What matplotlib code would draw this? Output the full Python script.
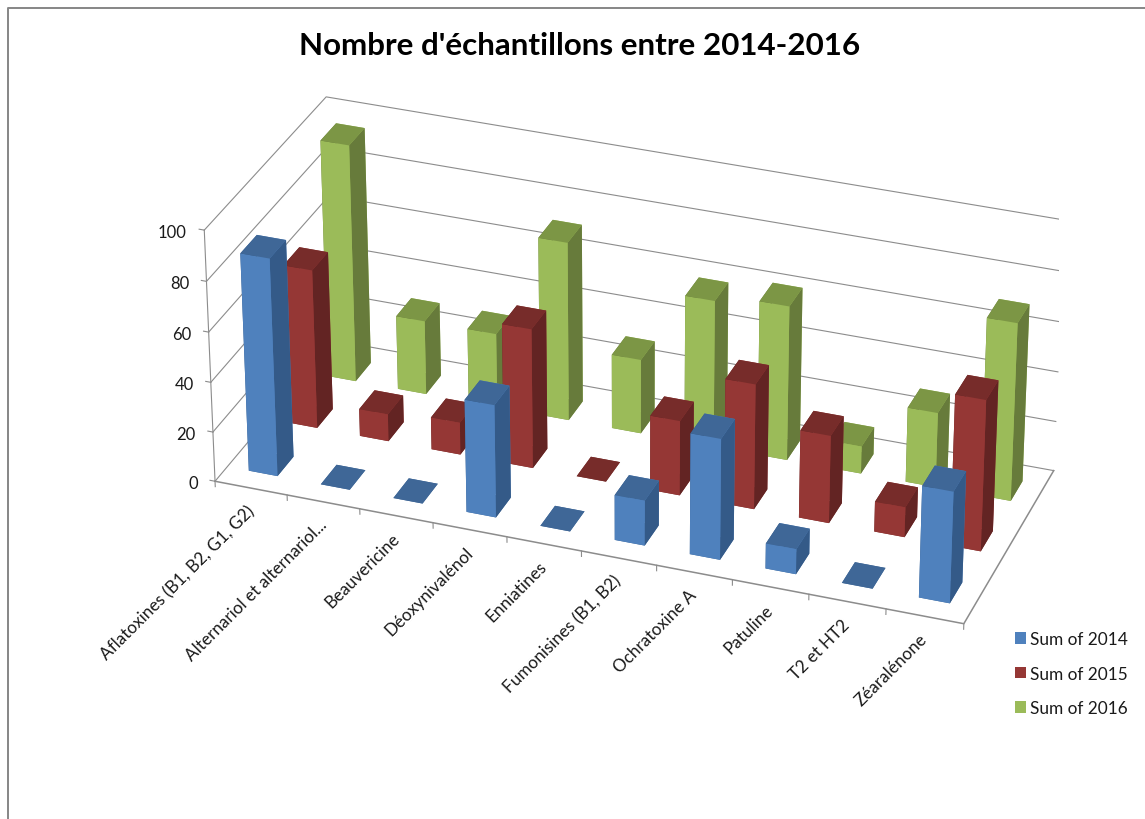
import matplotlib
matplotlib.use("Agg")
import matplotlib.pyplot as plt
from matplotlib.lines import Line2D
from matplotlib.patches import Patch
from mpl_toolkits.mplot3d import proj3d

plt.rcParams["font.family"] = "Lato"

categories = ["Aflatoxines (B1, B2, G1, G2)", "Alternariol et alternariol...", "Beauvericine", "Déoxynivalénol",
              "Enniatines", "Fumonisines (B1, B2)", "Ochratoxine A", "Patuline", "T2 et HT2", "Zéaralénone"]
sum2014 = [87, 0, 0, 45, 0, 18, 48, 10, 0, 44]
sum2015 = [64, 11, 13, 56, 0, 30, 50, 35, 12, 60]
sum2016 = [96, 30, 30, 72, 30, 59, 62, 11, 30, 71]
ticks = [0, 20, 40, 60, 80, 100]
seriesNames = ["Sum of 2014", "Sum of 2015", "Sum of 2016"]
series = [sum2014, sum2015, sum2016]
frontColors = ["#4F81BD", "#953735", "#9BBB59"]
sideColors = ["#345A88", "#632423", "#677B3B"]
topColors = ["#3F6797", "#772C2A", "#7C9645"]
lineColor = "#8C8C8C"

W, H = 1145, 820
fig = plt.figure(figsize=(W / 100, H / 100), dpi=100)

# camera found by fitting the box corners to the reference
size = 870.73
centerX, centerY = 623.29, 364.84
ax = fig.add_axes([(centerX - size / 2) / W, (H - centerY - size / 2) / H, size / W, size / H],
                  projection="3d", computed_zorder=False)
ax.set_xlim(0, 10)
ax.set_ylim(0, 3)
ax.set_zlim(0, 100)
ax.view_init(29.352, -70.0047, 0)
ax.set_proj_type("persp", focal_length=1.1881)
ax.set_box_aspect((1, 0.3924, 0.3639))
ax.set_xticks([])
ax.set_yticks([])
ax.set_zticks([])
ax.set_axis_off()

# walls and floor
for t in ticks:
    ax.plot([0, 0, 10], [0, 3, 3], [t, t, t], color=lineColor, lw=0.8, zorder=1)
    ax.plot([0, -0.07], [0, 0], [t, t], color=lineColor, lw=0.8, zorder=1)
    ax.text(-0.24, 0, t - 2, str(t), ha="right", va="center", fontsize=12, color="#1A1A1A")
ax.plot([0, 0], [0, 0], [0, 100], color=lineColor, lw=0.8, zorder=1)
ax.plot([0, 10, 10], [0, 0, 3], [0, 0, 0], color=lineColor, lw=1.1, zorder=1)

# Text3D ignores rotation, so the slanted labels go on through the projected position
proj = ax.get_proj()
for i, name in enumerate(categories):
    ax.plot([i, i], [0, 0], [0, -2.2], color=lineColor, lw=0.8, zorder=1)
    px, py, _ = proj3d.proj_transform(i + 0.5, 0, -8, proj)
    ax.text2D(px, py, name, transform=ax.transData, rotation=45, rotation_mode="anchor", ha="right",
              va="center", fontsize=12.3, color="#1A1A1A")
ax.plot([10, 10], [0, 0], [0, -2.2], color=lineColor, lw=0.8, zorder=1)

# bars, back row first, left to right so the nearer ones cover the others
for s in [2, 1, 0]:
    faces = [topColors[s], topColors[s], frontColors[s], frontColors[s], sideColors[s], sideColors[s]]
    for i in range(len(categories)):
        ax.bar3d(i + 0.3, s + 0.3, 0, 0.4, 0.4, series[s][i], color=faces, shade=False,
                 edgecolor="none", zorder=10 + (2 - s) * 20 + i)

fig.text(580 / W, 1 - 46 / H, "Nombre d'échantillons entre 2014-2016", fontsize=22.6, fontweight="bold",
         ha="center", va="center", color="black")

handles = [Patch(facecolor=c, edgecolor="none") for c in frontColors]
fig.legend(handles, seriesNames, loc="upper left", bbox_to_anchor=(1015 / W, 1 - 632 / H), frameon=False,
           fontsize=12.4, borderpad=0, borderaxespad=0, handlelength=0.64, handleheight=0.64,
           handletextpad=0.23, labelspacing=1.08, labelcolor="#1A1A1A")

# chart border, only the top and left sides are inside the crop
fig.add_artist(Line2D([7.5 / W, 7.5 / W, 1], [0, 1 - 8.5 / H, 1 - 8.5 / H], color="#868686", lw=1.4))

fig.savefig("out.png", dpi=100)
